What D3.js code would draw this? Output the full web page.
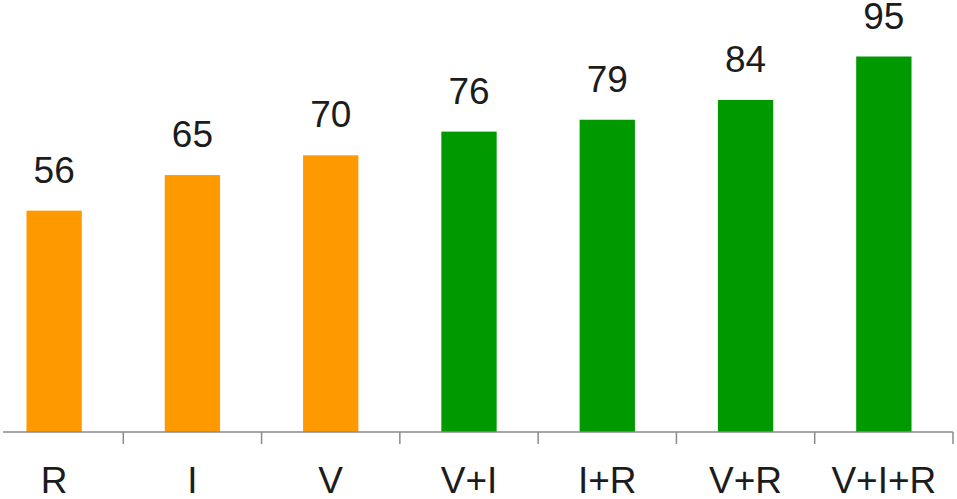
<!DOCTYPE html>
<html>
<head>
<meta charset="utf-8">
<script src="https://cdn.jsdelivr.net/npm/d3@7"></script>
<style>
  html, body { margin: 0; padding: 0; background: #fff; }
  svg { display: block; }
  text { font-family: "Liberation Sans", Arial, sans-serif; fill: #1c1c1c; }
</style>
</head>
<body>
<svg id="chart" width="957" height="499"></svg>
<script>
// Categories and their scores
const categories = ["R", "I", "V", "V+I", "I+R", "V+R", "V+I+R"];
const values = [56, 65, 70, 76, 79, 84, 95];
// Single-feature groups are orange, combinations are green
const groups = ["single", "single", "single", "combo", "combo", "combo", "combo"];

const width = 957, height = 499;
const baseline = 432;

const svg = d3.select("#chart");

const x = d3.scaleBand()
  .domain(categories)
  .range([-15, 953])
  .paddingInner(0.6)
  .paddingOuter(0.3);

const y = d3.scaleLinear()
  .domain([0, 95])
  .range([baseline, 56.5]);

const color = d3.scaleOrdinal()
  .domain(["single", "combo"])
  .range(["#ff9900", "#009900"]);

const data = categories.map((c, i) => ({ cat: c, value: values[i], group: groups[i] }));

// Bars
svg.append("g")
  .selectAll("rect")
  .data(data)
  .join("rect")
  .attr("x", d => x(d.cat))
  .attr("y", d => y(d.value))
  .attr("width", x.bandwidth())
  .attr("height", d => y(0) - y(d.value))
  .attr("fill", d => color(d.group));

// Value labels above bars
svg.append("g")
  .selectAll("text")
  .data(data)
  .join("text")
  .attr("x", d => x(d.cat) + x.bandwidth() / 2)
  .attr("y", d => y(d.value) - 28)
  .attr("text-anchor", "middle")
  .attr("font-size", 37)
  .text(d => d.value);

// Category axis: baseline with ticks at band boundaries
const step = x.step();
const gap = step - x.bandwidth();
const boundaries = categories.map(c => x(c) + x.bandwidth() + gap / 2);

const axis = svg.append("g");
axis.append("line")
  .attr("x1", 3)
  .attr("x2", boundaries[boundaries.length - 1])
  .attr("y1", baseline)
  .attr("y2", baseline)
  .attr("stroke", "#8a8a8a")
  .attr("stroke-width", 1.5);

axis.selectAll("line.tick")
  .data(boundaries)
  .join("line")
  .attr("class", "tick")
  .attr("x1", d => d)
  .attr("x2", d => d)
  .attr("y1", baseline)
  .attr("y2", baseline + 12)
  .attr("stroke", "#8a8a8a")
  .attr("stroke-width", 1.5);

axis.selectAll("text")
  .data(categories)
  .join("text")
  .attr("x", d => x(d) + x.bandwidth() / 2)
  .attr("y", 493)
  .attr("text-anchor", "middle")
  .attr("font-size", 37)
  .text(d => d);
</script>
</body>
</html>
